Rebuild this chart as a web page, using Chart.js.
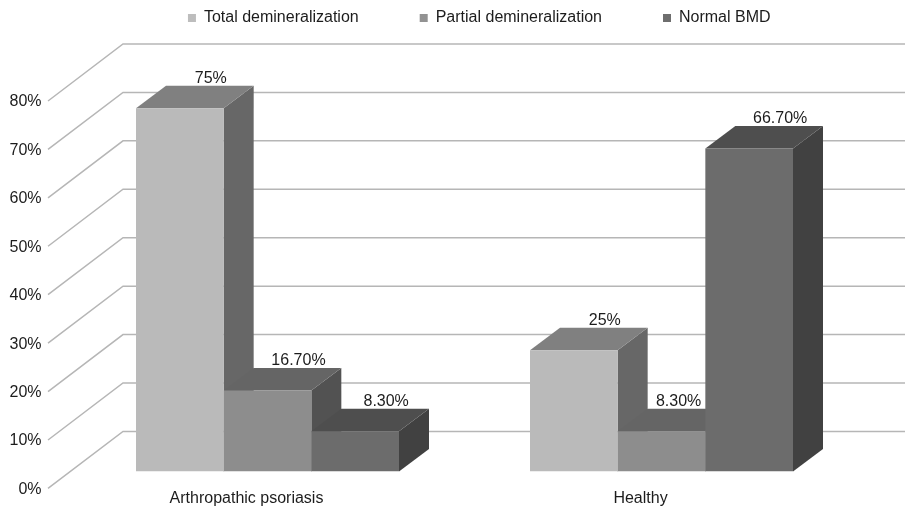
<!DOCTYPE html>
<html>
<head>
<meta charset="utf-8">
<style>html,body{margin:0;padding:0;background:#fff}canvas{display:block}</style>
<script src="https://cdn.jsdelivr.net/npm/chart.js@4"></script>
</head>
<body>
<canvas id="c" width="905" height="510"></canvas>
<script>
const categories = ['Arthropathic psoriasis', 'Healthy'];
const totalDemineralization = [75, 25];
const partialDemineralization = [16.7, 8.3];
const normalBMD = [8.3, 66.7];
const seriesNames = ['Total demineralization', 'Partial demineralization', 'Normal BMD'];
const yTickValues = [0, 10, 20, 30, 40, 50, 60, 70, 80];

const FONT = '"Liberation Sans", Arial, sans-serif';
const frontColors = ['#bababa', '#8d8d8d', '#6c6c6c'];
const topColors = ['#808080', '#656565', '#4e4e4e'];
const sideColors = ['#676767', '#525252', '#414141'];
const legendColors = ['#bdbdbd', '#929292', '#6e6e6e'];

function fmt(v) { return Number.isInteger(v) ? v + '%' : v.toFixed(2) + '%'; }

const scene3d = {
  id: 'scene3d',
  afterLayout(chart) {
    const l = chart.legend;
    l.top = -51; l.left += 50; l.right += 50;
  },
  beforeDatasetsDraw(chart) {
    const ctx = chart.ctx, y = chart.scales.y;
    ctx.save();
    ctx.strokeStyle = '#b6b6b6';
    ctx.lineWidth = 1.5;
    yTickValues.forEach(v => {
      const py = y.getPixelForValue(v);
      ctx.beginPath();
      ctx.moveTo(48, py + 17);
      ctx.lineTo(123, py - 40);
      ctx.lineTo(905, py - 40);
      ctx.stroke();
    });
    const dx = 30, dy = 22.5;
    categories.forEach((_, c) => {
      chart.data.datasets.forEach((ds, i) => {
        const b = chart.getDatasetMeta(i).data[c];
        const l = b.x - b.width / 2, r = b.x + b.width / 2;
        ctx.fillStyle = sideColors[i];
        ctx.beginPath();
        ctx.moveTo(r, b.y); ctx.lineTo(r + dx, b.y - dy);
        ctx.lineTo(r + dx, b.base - dy); ctx.lineTo(r, b.base);
        ctx.closePath(); ctx.fill();
        ctx.fillStyle = topColors[i];
        ctx.beginPath();
        ctx.moveTo(l, b.y); ctx.lineTo(l + dx, b.y - dy);
        ctx.lineTo(r + dx, b.y - dy); ctx.lineTo(r, b.y);
        ctx.closePath(); ctx.fill();
      });
    });
    ctx.restore();
  },
  afterDatasetsDraw(chart) {
    const ctx = chart.ctx;
    ctx.save();
    ctx.font = '16px ' + FONT;
    ctx.fillStyle = '#1c1c1c';
    ctx.textAlign = 'center';
    ctx.textBaseline = 'middle';
    chart.data.datasets.forEach((ds, i) => {
      chart.getDatasetMeta(i).data.forEach((b, c) => {
        const t = fmt(ds.data[c]);
        let x = b.x + 31;
        const nextMeta = chart.getDatasetMeta(i + 1);
        if (i < 2 && nextMeta.data[c].y < b.y - 40) {
          x = Math.min(x, nextMeta.data[c].x - nextMeta.data[c].width / 2 - 4 - ctx.measureText(t).width / 2);
        }
        ctx.fillText(t, x, b.y - 30);
      });
    });
    ctx.restore();
  }
};

new Chart(document.getElementById('c'), {
  type: 'bar',
  data: {
    labels: categories,
    datasets: [totalDemineralization, partialDemineralization, normalBMD].map((d, i) => ({
      label: seriesNames[i],
      data: d,
      backgroundColor: frontColors[i],
      borderWidth: 0,
      categoryPercentage: 263 / 394,
      barPercentage: 1
    }))
  },
  options: {
    responsive: false,
    animation: false,
    layout: { padding: { left: 0, right: 46.5, top: 0, bottom: 0 } },
    plugins: {
      tooltip: { enabled: false },
      legend: {
        position: 'top',
        maxHeight: 84,
        labels: {
          boxWidth: 8, boxHeight: 8, padding: 61, color: '#1c1c1c',
          font: { family: FONT, size: 16 },
          generateLabels(chart) {
            return chart.data.datasets.map((d, i) => ({
              text: d.label, fillStyle: legendColors[i], strokeStyle: legendColors[i],
              lineWidth: 0, datasetIndex: i, fontColor: '#1c1c1c'
            }));
          }
        }
      }
    },
    scales: {
      x: {
        grid: { display: false, drawTicks: false },
        border: { display: false },
        afterFit(s) { s.height = 38; },
        ticks: { color: '#1c1c1c', font: { family: FONT, size: 16 }, padding: 18, labelOffset: -21, maxRotation: 0 }
      },
      y: {
        min: 0, max: 80,
        grid: { display: false, drawTicks: false },
        border: { display: false },
        afterFit(s) { s.width = 70.5; },
        ticks: { stepSize: 10, color: '#1c1c1c', font: { family: FONT, size: 16 }, padding: 29, labelOffset: 18, callback: v => v + '%' }
      }
    }
  },
  plugins: [scene3d]
});
</script>
</body>
</html>
